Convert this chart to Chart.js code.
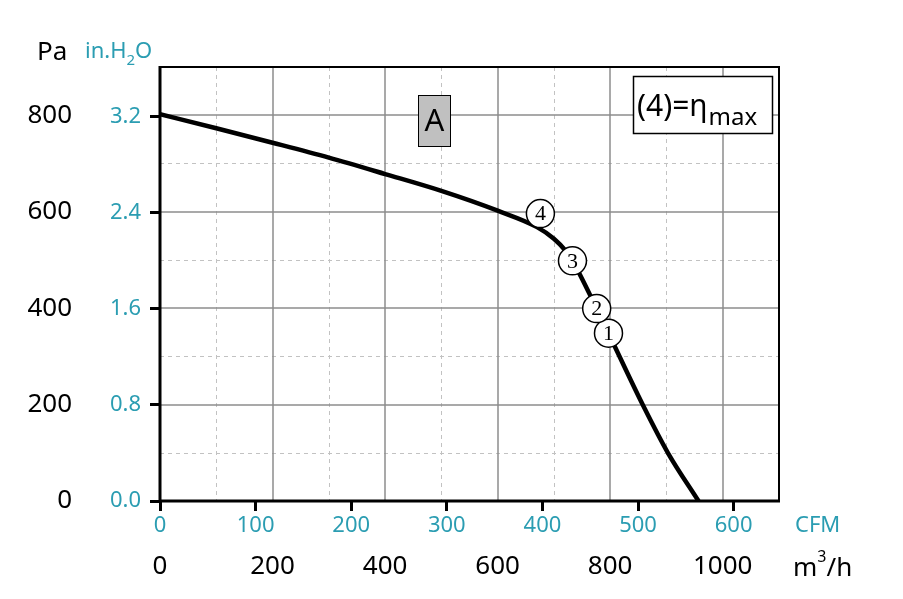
<!DOCTYPE html>
<html><head><meta charset="utf-8">
<script src="https://cdn.jsdelivr.net/npm/chart.js@4"></script>
<style>html,body{margin:0;padding:0;background:#fff}#wrap{width:903px;height:599px}</style>
</head><body><div id="wrap"><canvas id="c" width="903" height="599"></canvas></div>
<script>
// ---- data ----
const FLOW_M3H    = [0, 100, 200, 300, 400, 500, 600, 670, 700, 720, 733, 776, 797, 859, 903, 957];
const PRESSURE_PA = [802, 773, 743, 712, 678, 643, 602, 568, 544, 520, 498, 399, 348, 197, 99, 0];
const OP_FLOW     = [797, 776, 733, 676];
const OP_PRESSURE = [348, 399, 498, 596];
const OP_LABELS   = ['1', '2', '3', '4'];
const PA_TICKS    = [0, 200, 400, 600, 800];
const INH2O_TICKS = [0, 0.8, 1.6, 2.4, 3.2];
const CFM_TICKS   = [0, 100, 200, 300, 400, 500, 600];
const M3H_TICKS   = [0, 200, 400, 600, 800, 1000];
const GRID_MAJOR_X = [200, 400, 600, 800, 1000];
const GRID_MINOR_X = [100, 300, 500, 700, 900];
const GRID_MAJOR_Y = [200, 400, 600, 800];
const GRID_MINOR_Y = [100, 300, 500, 700];
const PA_PER_INH2O = 249.089;
const M3H_PER_CFM = 1.69901;
const X_MAX = 1100, Y_MAX = 900;

const TEAL = '#2b9db2';
const FONT = "'Noto Sans', 'Open Sans', sans-serif";

function setTicks(list){ return s => { s.ticks = list.map(v => ({value: v})); }; }

const decor = {
  id: 'decor',
  beforeDatasetsDraw(chart){
    const {ctx, chartArea: a, scales: {x, y}} = chart;
    ctx.save();
    const ln = (x1,y1,x2,y2)=>{ctx.beginPath();ctx.moveTo(x1,y1);ctx.lineTo(x2,y2);ctx.stroke();};
    ctx.strokeStyle = '#c2c2c2'; ctx.lineWidth = 1; ctx.setLineDash([4,4]);
    GRID_MINOR_X.forEach(v => { const p = Math.round(x.getPixelForValue(v)) + 0.5; ln(p, a.top, p, a.bottom); });
    GRID_MINOR_Y.forEach(v => { const p = Math.round(y.getPixelForValue(v)) + 0.5; ln(a.left, p, a.right, p); });
    ctx.setLineDash([]);
    ctx.strokeStyle = '#8c8c8c'; ctx.lineWidth = 1.5;
    GRID_MAJOR_X.forEach(v => { const p = Math.round(x.getPixelForValue(v)); ln(p, a.top, p, a.bottom); });
    GRID_MAJOR_Y.forEach(v => { const p = Math.round(y.getPixelForValue(v)); ln(a.left, p, a.right, p); });
    ctx.restore();
  },
  afterDatasetsDraw(chart){
    const {ctx, chartArea: a} = chart;
    ctx.save();
    // frame
    ctx.strokeStyle = '#000';
    ctx.lineWidth = 2;
    ctx.beginPath(); ctx.moveTo(a.left, a.top); ctx.lineTo(a.right, a.top); ctx.lineTo(a.right, a.bottom); ctx.stroke();
    ctx.lineWidth = 3;
    ctx.beginPath(); ctx.moveTo(a.left, a.top - 1); ctx.lineTo(a.left, a.bottom); ctx.lineTo(a.right + 1, a.bottom); ctx.stroke();
    // numbers in circles
    const meta = chart.getDatasetMeta(0);
    ctx.fillStyle = '#000';
    ctx.font = "22px 'Liberation Serif', 'DejaVu Serif', serif";
    ctx.textAlign = 'center'; ctx.textBaseline = 'middle';
    meta.data.forEach((pt, i) => { ctx.fillText(OP_LABELS[i], pt.x, pt.y + 1); });

    // "A" box
    ctx.fillStyle = '#c0c0c0'; ctx.fillRect(418, 95, 33, 52);
    ctx.lineWidth = 1; ctx.strokeStyle = '#000'; ctx.strokeRect(418.5, 95.5, 32, 51);
    ctx.fillStyle = '#000'; ctx.font = "31px " + FONT; ctx.textAlign = 'center'; ctx.textBaseline = 'middle';
    ctx.fillText('A', 434.5, 122);

    // (4)=eta max box
    ctx.fillStyle = '#fff'; ctx.fillRect(633, 76, 140, 58);
    ctx.lineWidth = 1.5; ctx.strokeRect(633.5, 76.5, 139, 57);
    ctx.fillStyle = '#000'; ctx.textAlign = 'left'; ctx.textBaseline = 'alphabetic';
    ctx.font = "30px " + FONT;
    ctx.fillText('(4)=η', 637, 116);
    const w = ctx.measureText('(4)=η').width;
    ctx.font = "24px " + FONT;
    ctx.fillText('max', 637 + w + 1, 125);

    // axis titles
    ctx.textBaseline = 'middle'; ctx.textAlign = 'left';
    ctx.fillStyle = '#000'; ctx.font = "26px " + FONT;
    ctx.fillText('Pa', 37, 53);
    ctx.fillStyle = TEAL; ctx.font = "22px " + FONT;
    ctx.fillText('in.H', 85, 52);
    let wx = 85 + ctx.measureText('in.H').width;
    ctx.font = "15px " + FONT; ctx.fillText('2', wx, 61);
    wx += ctx.measureText('2').width;
    ctx.font = "22px " + FONT; ctx.fillText('O', wx, 52);

    ctx.fillStyle = TEAL; ctx.font = "22px " + FONT;
    ctx.fillText('CFM', 795, 526);
    ctx.fillStyle = '#000'; ctx.font = "26px " + FONT;
    ctx.fillText('m', 793, 569);
    let mx = 793 + ctx.measureText('m').width;
    ctx.font = "16px " + FONT; ctx.fillText('3', mx, 557);
    mx += ctx.measureText('3').width;
    ctx.font = "26px " + FONT; ctx.fillText('/h', mx, 569);
    ctx.restore();
  }
};

new Chart(document.getElementById('c'), {
  type: 'line',
  data: {
    datasets: [
      {
        type: 'line', showLine: false, order: 0,
        data: OP_FLOW.map((f, i) => ({x: f, y: OP_PRESSURE[i]})),
        pointRadius: 14, pointBackgroundColor: '#fff', pointBorderColor: '#000', pointBorderWidth: 1.5,
        xAxisID: 'x', yAxisID: 'y'
      },
      {
        type: 'line', order: 1,
        data: FLOW_M3H.map((f, i) => ({x: f, y: PRESSURE_PA[i]})),
        borderColor: '#000', borderWidth: 4.5, pointRadius: 0, fill: false,
        cubicInterpolationMode: 'monotone',
        xAxisID: 'x', yAxisID: 'y'
      }
    ]
  },
  options: {
    responsive: false, animation: false, devicePixelRatio: 1,
    layout: {padding: {top: 67, right: 124, left: 0, bottom: 0}},
    plugins: {legend: {display: false}, tooltip: {enabled: false}},
    scales: {
      x: {
        type: 'linear', position: 'bottom', weight: 1, min: 0, max: X_MAX,
        afterBuildTicks: setTicks(M3H_TICKS),
        afterFit: s => { s.height = 54; },
        grid: {display: false, drawTicks: false}, border: {display: false},
        ticks: {color: '#000', font: {family: FONT, size: 26}, padding: 6, maxRotation: 0, autoSkip: false,
                callback: v => String(v)}
      },
      xc: {
        type: 'linear', position: 'bottom', weight: 0, min: 0, max: X_MAX / M3H_PER_CFM,
        afterBuildTicks: setTicks(CFM_TICKS),
        afterFit: s => { s.height = 44; },
        grid: {drawOnChartArea: false, drawTicks: true, tickLength: 10, tickColor: '#000', tickWidth: 3},
        border: {display: false},
        ticks: {color: TEAL, font: {family: FONT, size: 22}, padding: 2, maxRotation: 0, autoSkip: false,
                callback: v => String(v)}
      },
      y: {
        type: 'linear', position: 'left', weight: 1, min: 0, max: Y_MAX,
        afterBuildTicks: setTicks(PA_TICKS),
        afterFit: s => { s.width = 95; },
        grid: {display: false, drawTicks: false}, border: {display: false},
        ticks: {color: '#000', font: {family: FONT, size: 26}, padding: 23, callback: v => String(v)}
      },
      yi: {
        type: 'linear', position: 'left', weight: 0, min: 0, max: Y_MAX / PA_PER_INH2O,
        afterBuildTicks: setTicks(INH2O_TICKS),
        afterFit: s => { s.width = 65; },
        grid: {drawOnChartArea: false, drawTicks: true, tickLength: 10, tickColor: '#000', tickWidth: 3},
        border: {display: false},
        ticks: {color: TEAL, font: {family: FONT, size: 22}, padding: 9, callback: v => Number(v).toFixed(1)}
      }
    }
  },
  plugins: [decor]
});
</script></body></html>
